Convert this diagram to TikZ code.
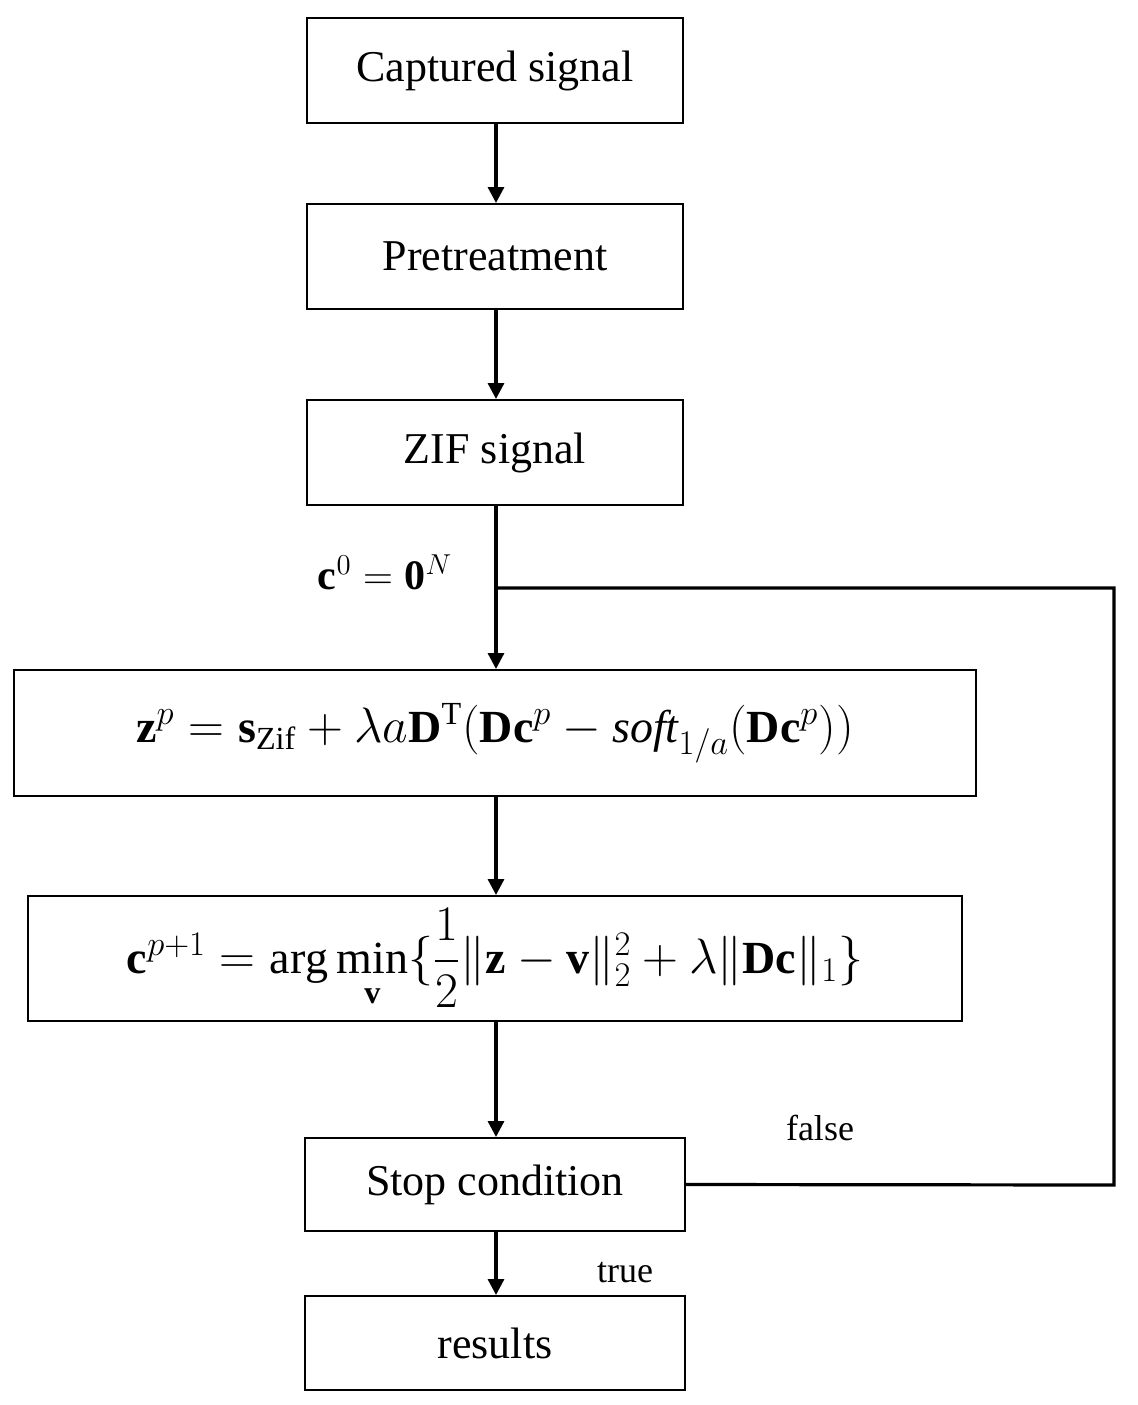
\documentclass[tikz,border=0pt]{standalone}
\usepackage{amsmath,bm}
\usepackage{fontspec}
\setmainfont{Liberation Serif}
\usetikzlibrary{arrows.meta}
\begin{document}
\begin{tikzpicture}[x=0.5pt,y=-0.5pt,
  box/.style={draw,line width=1pt,inner sep=0pt,font=\fontsize{22}{26}\selectfont},
  mbox/.style={box,font=\fontsize{23}{28}\selectfont},
  arr/.style={line width=1.6pt,-{Triangle[length=8pt,width=8pt]}},
  lab/.style={font=\fontsize{18}{21}\selectfont}]
\useasboundingbox (0,0) rectangle (1138,1405);
\node[box,minimum width=188pt,minimum height=52.5pt] (a) at (495,70.5) {Captured signal};
\node[box,minimum width=188pt,minimum height=52.5pt] (b) at (495,256.5) {Pretreatment};
\node[box,minimum width=188pt,minimum height=52.5pt] (c) at (495,452.5) {ZIF signal};
\node[mbox,minimum width=481pt,minimum height=63pt] (d) at (495,733) {$\mathbf{z}^{p}=\mathbf{s}_{\mathrm{Zif}}+\lambda a\mathbf{D}^{\mathrm{T}}(\mathbf{D}\mathbf{c}^{p}-\mathit{soft}_{1/a}(\mathbf{D}\mathbf{c}^{p}))$};
\node[mbox,minimum width=467pt,minimum height=62.5pt] (e) at (495,958.5) {$\mathbf{c}^{p+1}=\arg\min\limits_{\mathbf{v}}\{\dfrac{1}{2}\|\mathbf{z}-\mathbf{v}\|_2^2+\lambda\|\mathbf{D}\mathbf{c}\|_1\}$};
\node[box,minimum width=190pt,minimum height=46.5pt] (f) at (495,1184.5) {Stop condition};
\node[box,minimum width=190pt,minimum height=47pt] (g) at (495,1343) {results};
\coordinate (j) at (496,588);
\coordinate (r1) at (1114,1185);
\coordinate (r2) at (1114,588);
\draw[arr] (a.south -| j) -- (b.north -| j);
\draw[arr] (b.south -| j) -- (c.north -| j);
\draw[arr] (c.south -| j) -- (d.north -| j);
\draw[arr] (d.south -| j) -- (e.north -| j);
\draw[arr] (e.south -| j) -- (f.north -| j);
\draw[arr] (f.south -| j) -- (g.north -| j);
\draw[line width=1.6pt] (f.east) -- (r1) -- (r2) -- (j);
\node[lab,font=\fontsize{21}{24}\selectfont] (l0) at (385,572) {$\mathbf{c}^{0}=\mathbf{0}^{N}$};
\node[lab] (l1) at (820,1128) {false};
\node[lab] (l2) at (625,1273) {true};
\end{tikzpicture}
\end{document}
